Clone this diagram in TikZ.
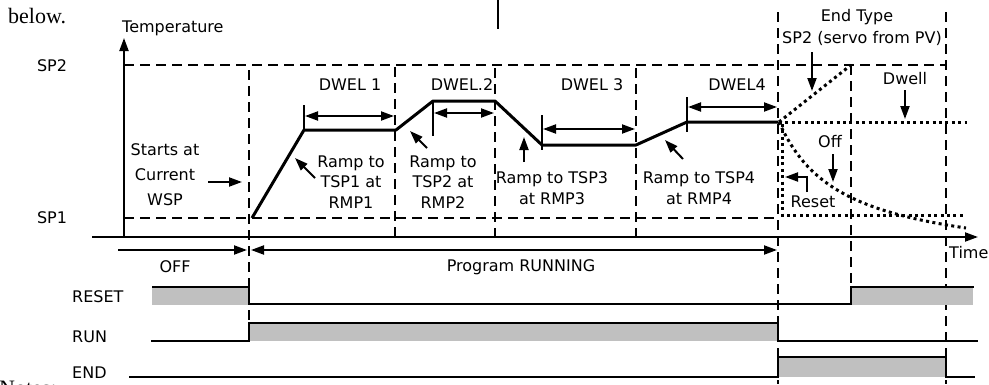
\documentclass[tikz,border=0pt]{standalone}
\usepackage{fontspec}
\setmainfont{Liberation Serif}
\newfontfamily\lblfont{DejaVu Sans}
\usetikzlibrary{arrows.meta}
\definecolor{sig}{HTML}{C0C0C0}
\begin{document}
\begin{tikzpicture}[x=1pt,y=-1pt,
  lbl/.style={font=\lblfont\fontsize{16}{20.5}\selectfont,inner sep=0pt,align=center},
  serif/.style={font=\fontsize{22}{24}\selectfont,inner sep=0pt},
  grid/.style={line width=1.7pt,dash pattern=on 10pt off 6pt},
  prof/.style={line width=3pt,line join=round},
  tick/.style={line width=1.6pt},
  arr/.style={line width=2pt,-{Triangle[length=13pt,width=9pt]}},
  darr/.style={line width=2pt,{Triangle[length=13pt,width=9pt]}-{Triangle[length=13pt,width=9pt]}},
  endt/.style={line width=3pt,dash pattern=on 3pt off 3.4pt},
  sigl/.style={line width=2.6pt,line join=miter},
  axis/.style={line width=2pt}]
\useasboundingbox (0,0) rectangle (989,384);

% page remnants
\node[serif,anchor=base west] (below) at (8,23) {below.};
\node[serif,anchor=base west] (notes) at (-1,395) {Notes:};
\draw[line width=1.7pt] (498,0) -- (498,29);

% grid
\draw[grid] (124,65) -- (946,65);
\draw[grid] (124,218) -- (778,218);
\draw[grid] (249,70) -- (249,323);
\draw[grid] (395,67) -- (395,237);
\draw[grid] (495,68) -- (495,237);
\draw[grid] (636,68) -- (636,237);
\draw[grid] (778,12) -- (778,384);
\draw[grid] (851,65) -- (851,287);
\draw[grid] (946,12) -- (946,384);

% axes
\coordinate (yb) at (124,237);
\coordinate (yt) at (124,38);
\coordinate (xl) at (92,237);
\coordinate (xr) at (978,237);
\draw[axis,-{Triangle[length=13pt,width=9pt]}] (yb) -- (yt);
\draw[axis,-{Triangle[length=13pt,width=9pt]}] (xl) -- (xr);
\node[lbl,anchor=west] (temp) at (122,28) {Temperature};
\node[lbl,anchor=west] (time) at (949,253) {Time};
\node[lbl] (sp2) at (52,66) {SP2};
\node[lbl] (sp1) at (52,218) {SP1};

% profile
\coordinate (p0) at (252,218);
\coordinate (p1) at (304,130);
\coordinate (p2) at (396,130);
\coordinate (p3) at (433,101);
\coordinate (p4) at (495,101);
\coordinate (p5) at (542,145);
\coordinate (p6) at (636,145);
\coordinate (p7) at (687,122);
\coordinate (p8) at (778,122);
\draw[prof] (p0) -- (p1) -- (p2) -- (p3) -- (p4) -- (p5) -- (p6) -- (p7) -- (p8);

% dwell ticks and arrows
\draw[tick] (304,105) -- (p1);
\draw[tick] (p3) -- (433,136);
\draw[tick] (542,115) -- (542,150);
\draw[tick] (687,97) -- (687,132);
\coordinate (d1a) at (305,116); \coordinate (d1b) at (394,116);
\coordinate (d2a) at (434,113); \coordinate (d2b) at (494,113);
\coordinate (d3a) at (543,129); \coordinate (d3b) at (635,129);
\coordinate (d4a) at (688,107); \coordinate (d4b) at (777,107);
\draw[darr] (d1a) -- (d1b);
\draw[darr] (d2a) -- (d2b);
\draw[darr] (d3a) -- (d3b);
\draw[darr] (d4a) -- (d4b);
\node[lbl] (dw1) at (350,85) {DWEL 1};
\node[lbl] (dw2) at (462,85) {DWEL.2};
\node[lbl] (dw3) at (592,85) {DWEL 3};
\node[lbl] (dw4) at (737,85) {DWEL4};

% ramp notes
\node[lbl,font=\lblfont\fontsize{16}{25}\selectfont] (start) at (165,175) {Starts at\\Current\\WSP};
\node[lbl] (r1) at (351,182) {Ramp to\\TSP1 at\\RMP1};
\node[lbl] (r2) at (443,182) {Ramp to\\TSP2 at\\RMP2};
\node[lbl] (r3) at (552,188) {Ramp to TSP3\\at RMP3};
\node[lbl] (r4) at (699,188) {Ramp to TSP4\\at RMP4};
\coordinate (sa) at (208,182); \coordinate (sb) at (242,182);
\coordinate (a1a) at (315,178); \coordinate (a1b) at (295,158);
\coordinate (a2a) at (427,148); \coordinate (a2b) at (410,131);
\coordinate (a3a) at (524,162); \coordinate (a3b) at (524,137);
\coordinate (a4a) at (683,159); \coordinate (a4b) at (665,140);
\draw[arr] (sa) -- (sb);
\draw[arr] (a1a) -- (a1b);
\draw[arr] (a2a) -- (a2b);
\draw[arr] (a3a) -- (a3b);
\draw[arr] (a4a) -- (a4b);

% end types
\node[lbl] (et1) at (857,17) {End Type};
\node[lbl] (et2) at (862,38) {SP2 (servo from PV)};
\coordinate (e0) at (779,122);
\coordinate (esp) at (851,65);
\coordinate (edw) at (967,122);
\coordinate (eoff) at (966,228);
\coordinate (er1) at (782,124);
\coordinate (er2) at (782,215);
\coordinate (er3) at (966,215);
\draw[endt] (e0) -- (esp);
\draw[endt] (e0) -- (edw);
\draw[endt] (e0) .. controls (806,182) and (850,211) .. (eoff);
\draw[endt] (er1) -- (er2) -- (er3);
\node[lbl] (dwl) at (905,79) {Dwell};
\node[lbl] (off) at (830,142) {Off};
\node[lbl] (rst) at (813,202) {Reset};
\coordinate (s2a) at (812,52); \coordinate (s2b) at (812,91);
\coordinate (dwa) at (905,90); \coordinate (dwb) at (905,119);
\coordinate (ofa) at (833,154); \coordinate (ofb) at (833,182);
\coordinate (rsa) at (807,192); \coordinate (rsb) at (807,177); \coordinate (rsc) at (785,177);
\draw[arr] (s2a) -- (s2b);
\draw[arr] (dwa) -- (dwb);
\draw[arr] (ofa) -- (ofb);
\draw[arr] (rsa) -- (rsb) -- (rsc);

% run arrows
\coordinate (ofl) at (118,250); \coordinate (ofr) at (247,250);
\coordinate (prl) at (251,250); \coordinate (prr) at (777,250);
\draw[arr] (ofl) -- (ofr);
\draw[darr] (prl) -- (prr);
\node[lbl] (offl) at (175,267) {OFF};
\node[lbl] (prun) at (521,267) {Program RUNNING};

% signals
\fill[sig] (152,287) rectangle (249,305);
\fill[sig] (851,287) rectangle (973,305);
\fill[sig] (249,323) rectangle (778,341);
\fill[sig] (778,357) rectangle (946,377);
\draw[sigl] (152,287) -- (249,287) -- (249,304) -- (851,304) -- (851,287) -- (974,287);
\draw[sigl] (151,341) -- (249,341) -- (249,323) -- (778,323) -- (778,341) -- (978,341);
\draw[sigl] (129,377) -- (778,377) -- (778,357) -- (946,357) -- (946,377) -- (975,377);
\node[lbl,anchor=west] (lreset) at (72,297) {RESET};
\node[lbl,anchor=west] (lrun) at (72,337) {RUN};
\node[lbl,anchor=west] (lend) at (72,373) {END};
\end{tikzpicture}
\end{document}
